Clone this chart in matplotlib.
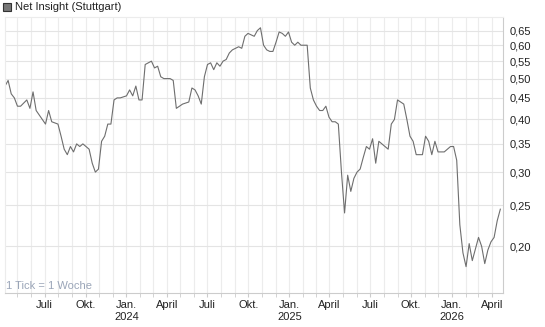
#!/usr/bin/env python3
# Net Insight (Stuttgart) - weekly price chart

import numpy as np
import pandas as pd
import matplotlib
matplotlib.use("Agg")
import matplotlib.pyplot as plt
import matplotlib.dates as mdates
from matplotlib.ticker import FixedLocator, FuncFormatter, NullLocator
from matplotlib.patches import Rectangle

plt.rcParams.update({
    "font.family": ["Liberation Sans", "DejaVu Sans"],
    "font.size": 8,
})

# ============================================================
# DATA (weekly closes)
# ============================================================

START = "2023-04-03"
WEEKS = [0, 1, 2, 3, 4, 5, 7, 8, 9, 10, 12, 13, 14, 15, 17, 18, 19, 20, 21, 22,
         23, 24, 25, 26, 27, 28, 29, 30, 31, 32, 33, 34, 35, 36, 37, 39, 40, 41, 42, 43,
         44, 45, 46, 47, 48, 49, 50, 51, 53, 54, 55, 57, 59, 60, 61, 62, 63, 64, 65, 66,
         67, 68, 69, 70, 71, 72, 73, 75, 76, 77, 78, 80, 81, 82, 83, 84, 85, 86, 87, 88,
         89, 90, 91, 92, 93, 94, 95, 96, 97, 98, 99, 100, 101, 102, 103, 104, 105, 106, 107, 108,
         109, 110, 111, 112, 113, 114, 115, 116, 117, 118, 119, 120, 121, 122, 123, 124, 125, 126, 127, 128,
         129, 130, 131, 132, 133, 134, 135, 136, 137, 138, 139, 140, 141, 142, 143, 144, 145, 146, 147, 148,
         149, 150, 151, 152, 153, 154, 155, 156, 157, 158, 159]
PRICES = [0.48, 0.495, 0.46, 0.45, 0.43, 0.43, 0.445, 0.425, 0.465, 0.42, 0.40, 0.39, 0.42, 0.395, 0.39, 0.365, 0.34, 0.33, 0.345, 0.335,
          0.35, 0.345, 0.35, 0.345, 0.34, 0.315, 0.30, 0.305, 0.355, 0.365, 0.39, 0.39, 0.445, 0.45, 0.45, 0.455, 0.47, 0.455, 0.48, 0.445,
          0.445, 0.54, 0.545, 0.55, 0.53, 0.535, 0.505, 0.50, 0.50, 0.495, 0.425, 0.435, 0.44, 0.475, 0.47, 0.455, 0.435, 0.505, 0.54, 0.545,
          0.525, 0.545, 0.535, 0.55, 0.555, 0.575, 0.585, 0.595, 0.59, 0.63, 0.64, 0.63, 0.65, 0.66, 0.60, 0.585, 0.58, 0.58, 0.61, 0.645,
          0.64, 0.63, 0.645, 0.61, 0.60, 0.61, 0.60, 0.60, 0.60, 0.475, 0.445, 0.43, 0.42, 0.42, 0.43, 0.405, 0.395, 0.395, 0.39, 0.30,
          0.24, 0.295, 0.27, 0.29, 0.30, 0.305, 0.325, 0.345, 0.34, 0.36, 0.315, 0.355, 0.35, 0.345, 0.34, 0.39, 0.40, 0.445, 0.44, 0.435,
          0.40, 0.365, 0.355, 0.33, 0.33, 0.33, 0.365, 0.355, 0.33, 0.355, 0.335, 0.335, 0.335, 0.34, 0.345, 0.345, 0.32, 0.225, 0.193, 0.179,
          0.203, 0.185, 0.197, 0.21, 0.20, 0.182, 0.196, 0.205, 0.21, 0.23, 0.245]

YTICKS = [0.20, 0.25, 0.30, 0.35, 0.40, 0.45, 0.50, 0.55, 0.60, 0.65]
MONTHS_DE = {1: "Jan.", 4: "April", 7: "Juli", 10: "Okt."}

# ============================================================
# PLOT
# ============================================================

dates = pd.Timestamp(START) + pd.to_timedelta(np.array(WEEKS) * 7, unit="D")

fig = plt.figure(figsize=(5.45, 3.27), dpi=100)
ax = fig.add_axes([5 / 545, 1 - 293 / 327, 498 / 545, 276 / 327])

ax.plot(dates, PRICES, color="#6e6e6e", lw=0.8)

ax.set_yscale("log")
ax.set_ylim(0.155, 0.70)
ax.set_xlim(pd.Timestamp("2023-04-03"), pd.Timestamp("2026-04-26"))

# y axis on the right, German decimal comma
ax.yaxis.tick_right()
ax.yaxis.set_major_locator(FixedLocator(YTICKS))
ax.yaxis.set_minor_locator(NullLocator())
ax.yaxis.set_major_formatter(FuncFormatter(lambda v, p: f"{v:.2f}".replace(".", ",")))
ax.tick_params(axis="y", length=0, pad=5, labelsize=8, colors="#222222")

# x axis: quarterly labels, monthly grid
def month_label(x, pos):
    d = mdates.num2date(x)
    lab = MONTHS_DE.get(d.month, "")
    if d.month == 1:
        lab += f"\n{d.year}"
    return lab

ax.xaxis.set_major_locator(mdates.MonthLocator(bymonth=[1, 4, 7, 10]))
ax.xaxis.set_minor_locator(mdates.MonthLocator())
ax.xaxis.set_major_formatter(FuncFormatter(month_label))
ax.tick_params(axis="x", which="both", length=3, color="#cccccc", pad=2,
               labelsize=8, labelcolor="#222222")

ax.grid(True, which="major", axis="y", color="#e4e4e4", lw=0.8)
ax.grid(True, which="both", axis="x", color="#ececec", lw=0.8)
ax.set_axisbelow(True)

for side in ["left", "top"]:
    ax.spines[side].set_color("#ececec")
    ax.spines[side].set_linewidth(0.8)
for side in ["right", "bottom"]:
    ax.spines[side].set_color("#cccccc")
    ax.spines[side].set_linewidth(0.8)

ax.text(0.003, 0.008, "1 Tick = 1 Woche", transform=ax.transAxes,
        ha="left", va="bottom", fontsize=8, color="#9aa5b8")

# legend box at the top left
fig.patches.append(Rectangle((3 / 545, 1 - 11 / 327), 8 / 545, 8 / 327,
                             transform=fig.transFigure, facecolor="#777777",
                             edgecolor="#333333", lw=0.8))
fig.text(15 / 545, 1 - 7.5 / 327, "Net Insight (Stuttgart)", ha="left", va="center",
         fontsize=8, color="#222222")

fig.savefig("out.png", dpi=100)
